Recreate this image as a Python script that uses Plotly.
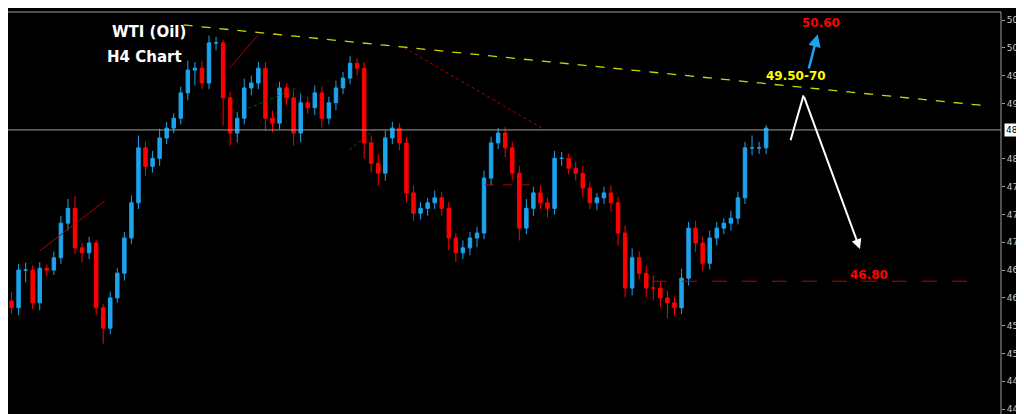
import plotly.graph_objects as go

closes = [45.99,46.60,46.60,46.07,46.63,46.60,46.80,47.36,47.60,46.96,46.88,47.04,45.99,45.66,46.15,
46.55,47.12,47.69,48.58,48.28,48.41,48.74,48.90,49.06,49.47,49.84,49.87,49.63,50.28,50.28,49.39,48.82,
49.06,49.55,49.63,49.87,49.06,48.98,49.55,49.39,48.82,49.31,49.23,49.47,49.06,49.31,49.55,49.71,49.95,
49.87,48.66,48.33,48.17,48.74,48.90,48.66,47.85,47.52,47.60,47.69,47.77,47.60,47.12,46.88,46.96,47.12,
47.20,48.09,48.66,48.82,48.58,48.17,47.28,47.60,47.85,47.69,47.60,48.41,48.41,48.25,48.17,47.93,47.69,
47.77,47.85,47.69,47.20,46.31,46.80,46.55,46.31,46.31,46.15,46.07,45.99,46.47,47.28,47.04,46.71,47.12,
47.28,47.36,47.44,47.77,48.58,48.58,48.58,48.90]
first_open = 46.10
wick_up = [0.15,0.10,0.12,0.08,0.10,0.06,0.10,0.12,0.15,0.20,0.08,0.10,0.05,0.06,0.10,
0.08,0.10,0.12,0.20,0.10,0.12,0.15,0.10,0.08,0.10,0.15,0.10,0.12,0.12,0.10,0.05,0.10,
0.10,0.15,0.12,0.10,0.10,0.12,0.10,0.08,0.12,0.15,0.10,0.12,0.10,0.10,0.12,0.10,0.12,
0.08,0.10,0.12,0.15,0.12,0.10,0.08,0.10,0.12,0.10,0.08,0.12,0.10,0.10,0.08,0.12,0.10,
0.10,0.12,0.10,0.08,0.10,0.10,0.12,0.15,0.10,0.12,0.08,0.12,0.10,0.08,0.10,0.12,0.10,
0.08,0.10,0.12,0.10,0.12,0.15,0.10,0.12,0.20,0.10,0.12,0.10,0.15,0.10,0.12,0.10,0.12,
0.10,0.08,0.12,0.10,0.10,0.20,0.10,0.05]
wick_dn = [0.10,0.12,0.20,0.10,0.12,0.10,0.08,0.10,0.12,0.10,0.15,0.10,0.12,0.25,0.10,
0.08,0.12,0.10,0.10,0.15,0.10,0.12,0.10,0.08,0.10,0.12,0.25,0.10,0.10,0.12,0.45,0.20,
0.15,0.10,0.12,0.10,0.20,0.15,0.10,0.12,0.20,0.15,0.10,0.12,0.15,0.10,0.12,0.10,0.10,
0.12,0.25,0.15,0.20,0.12,0.10,0.12,0.15,0.12,0.10,0.12,0.10,0.12,0.20,0.15,0.10,0.12,
0.15,0.10,0.12,0.10,0.15,0.12,0.20,0.10,0.12,0.10,0.15,0.10,0.12,0.10,0.12,0.15,0.10,
0.12,0.10,0.15,0.20,0.15,0.12,0.10,0.15,0.20,0.15,0.25,0.12,0.10,0.12,0.15,0.12,0.10,
0.12,0.10,0.12,0.10,0.10,0.12,0.10,0.10]
tick_vals = [44.35,44.80,45.25,45.70,46.15,46.60,47.05,47.50,47.95,48.40,48.87,49.30,49.75,50.20,50.65]
last_price = 48.87

idx = list(range(len(closes)))
opens = [first_open] + closes[:-1]
highs = [max(o, c) + w for o, c, w in zip(opens, closes, wick_up)]
lows = [min(o, c) - w for o, c, w in zip(opens, closes, wick_dn)]

fig = go.Figure(go.Candlestick(
    x=idx, open=opens, high=highs, low=lows, close=closes,
    increasing=dict(line=dict(color="#1ca3ec", width=1), fillcolor="#1ca3ec"),
    decreasing=dict(line=dict(color="#ff0000", width=1), fillcolor="#ff0000"),
    whiskerwidth=0, showlegend=False, hoverinfo="skip"))

shapes = [
    dict(type="line", x0=24.4, y0=50.57, x1=138.3, y1=49.26, line=dict(color="#d4d400", width=1.3, dash="dash")),
    dict(type="line", x0=55.7, y0=50.20, x1=75.2, y1=48.90, line=dict(color="#b00000", width=1, dash="dot")),
    dict(type="line", x0=4, y0=46.91, x1=13.2, y1=47.72, line=dict(color="#b00000", width=1)),
    dict(type="line", x0=30.9, y0=49.87, x1=34.8, y1=50.39, line=dict(color="#b00000", width=1)),
    dict(type="line", x0=33.6, y0=49.22, x1=40.4, y1=49.55, line=dict(color="#006000", width=1, dash="dot")),
    dict(type="line", x0=47.9, y0=48.55, x1=51.8, y1=48.90, line=dict(color="#006000", width=1, dash="dot")),
    dict(type="line", x0=90.8, y0=46.42, x1=136.9, y1=46.42, line=dict(color="#c00000", width=1, dash="longdash")),
    dict(type="line", x0=67.1, y0=47.98, x1=73.8, y1=47.98, line=dict(color="#c00000", width=1, dash="dash")),
    dict(type="line", xref="paper", x0=0, x1=1, y0=last_price, y1=last_price, line=dict(color="#a0a0a0", width=1)),
    dict(type="line", xref="paper", yref="paper", x0=0, x1=1, y0=1, y1=1, line=dict(color="#a0a0a0", width=1)),
    dict(type="line", xref="paper", yref="paper", x0=1, x1=1, y0=0, y1=1, line=dict(color="#a0a0a0", width=1)),
]

ann = [
    dict(x=19.5, y=50.45, text="WTI (Oil)", showarrow=False, font=dict(color="white", size=15, family="DejaVu Sans", weight="bold")),
    dict(x=18.8, y=50.05, text="H4 Chart", showarrow=False, font=dict(color="white", size=15, family="DejaVu Sans", weight="bold")),
    dict(x=111.3, y=49.75, text="49.50-70", showarrow=False, font=dict(color="#ffff00", size=12, family="DejaVu Sans", weight="bold")),
    dict(x=114.8, y=50.60, text="50.60", showarrow=False, font=dict(color="#ff0000", size=12, family="DejaVu Sans", weight="bold")),
    dict(x=121.6, y=46.52, text="46.80", showarrow=False, font=dict(color="#ff0000", size=12, family="DejaVu Sans", weight="bold")),
    dict(x=114.3, y=50.42, ax=113.0, ay=49.84, axref="x", ayref="y", text="", showarrow=True,
         arrowhead=2, arrowwidth=2.5, arrowcolor="#1ca3ec"),
    dict(x=112.3, y=49.43, ax=110.4, ay=48.68, axref="x", ayref="y", text="", showarrow=True,
         arrowhead=0, arrowwidth=2, arrowcolor="white"),
    dict(x=120.3, y=46.94, ax=112.3, ay=49.43, axref="x", ayref="y", text="", showarrow=True,
         arrowhead=2, arrowwidth=2, arrowcolor="white"),
    dict(xref="paper", x=1.003, y=last_price, xanchor="left", text="48.87", showarrow=False, bgcolor="white",
         font=dict(color="black", size=9, family="DejaVu Sans"), borderpad=1),
]

fig.update_layout(
    width=1024, height=414, paper_bgcolor="black", plot_bgcolor="black",
    margin=dict(l=0, r=31, t=4, b=0, autoexpand=False), shapes=shapes, annotations=ann,
    xaxis=dict(range=[-0.5, 140.3], showgrid=False, zeroline=False, showticklabels=False,
               rangeslider=dict(visible=False), automargin=False),
    yaxis=dict(range=[44.14, 50.78], side="right", showgrid=False, zeroline=False, automargin=False,
               tickvals=[t for t in tick_vals if t != last_price], ticktext=[f"{t:.2f}" for t in tick_vals if t != last_price],
               ticks="outside", ticklen=3, tickcolor="#a0a0a0",
               tickfont=dict(color="#c8c8c8", size=9, family="DejaVu Sans")),
)
fig.write_html("out.html")
